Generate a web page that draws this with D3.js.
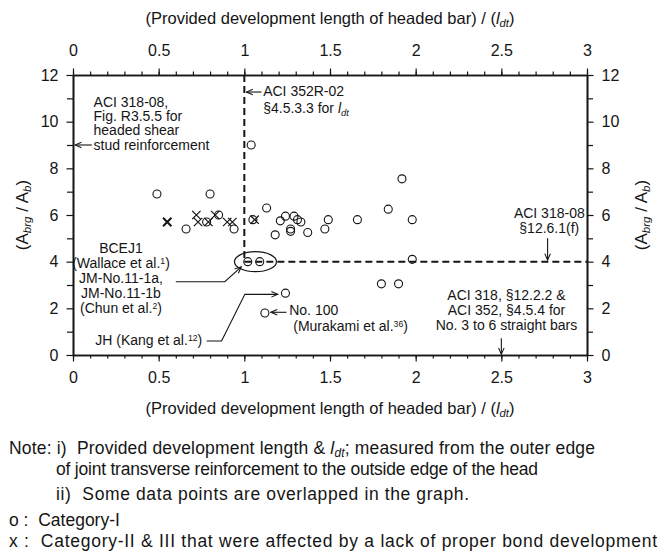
<!DOCTYPE html>
<html lang="en">
  <head>
    <meta charset="UTF-8" />
    <script src="https://d3js.org/d3.v7.min.js"></script>
    <title></title>
    <style>
      body { margin: 0; background: #fff; }
      svg text { font-family: 'Liberation Sans', Arial, sans-serif; fill: #151515; white-space: pre; }
    </style>
  </head>
  <body>
    <div id="chart"></div>
    <script>
      // Category-I specimens (open circles)
      const catIx = [0.49, 0.66, 0.78, 0.80, 0.85, 0.94, 1.04, 1.05, 1.13, 1.02, 1.09, 1.18, 1.21, 1.24, 1.27, 1.27, 1.29, 1.31, 1.33, 1.37, 1.47, 1.49, 1.66, 1.84, 1.92, 1.98, 1.98, 1.80, 1.90, 1.24, 1.12]
      const catIy = [6.9, 5.4, 5.7, 6.9, 6.0, 5.4, 9.0, 5.8, 6.3, 4.0, 4.0, 5.15, 5.75, 5.95, 5.4, 5.3, 5.95, 5.8, 5.7, 5.25, 5.4, 5.8, 5.8, 6.25, 7.55, 5.8, 4.1, 3.05, 3.05, 2.65, 1.8]

      // Category-II & III specimens (crosses)
      const catIIx = [0.55, 0.72, 0.73, 0.79, 0.83, 0.90, 0.93, 1.06]
      const catIIy = [5.7, 6.0, 5.7, 5.7, 6.0, 5.7, 5.7, 5.8]

      // tick values
      const xMajor = [0, 0.5, 1, 1.5, 2, 2.5, 3]
      const xMinor = d3.range(0, 31).map(d => d / 10)
      const yMajor = [0, 2, 4, 6, 8, 10, 12]
      const yMinor = [1, 3, 5, 7, 9, 11]

      // code limits drawn as dashed lines
      const limitLdt = 1
      const limitArea = 4

      const svg = d3
        .select('#chart')
        .append('svg')
        .attr('width', 665)
        .attr('height', 554)

      const x = d3.scaleLinear().domain([0, 3]).range([73, 587])
      const y = d3.scaleLinear().domain([0, 12]).range([355, 75])

      const ink = '#151515'

      function styleAxis(g, size) {
        g.attr('font-family', null).attr('font-size', null)
        g.select('.domain').attr('stroke', ink).attr('stroke-width', 1.6)
        g.selectAll('.tick line').attr('stroke', ink).attr('stroke-width', 1.2)
        g.selectAll('.tick text').style('font-size', size + 'px')
      }

      // minor ticks first, then major ticks with labels
      const axes = [
        { axis: d3.axisBottom, scale: x, t: `translate(0, ${y(0)})`, minor: xMinor, major: xMajor, pad: 10 },
        { axis: d3.axisTop, scale: x, t: `translate(0, ${y(12)})`, minor: xMinor, major: xMajor, pad: 13 },
        { axis: d3.axisLeft, scale: y, t: `translate(${x(0)}, 0)`, minor: yMinor, major: yMajor, pad: 8 },
        { axis: d3.axisRight, scale: y, t: `translate(${x(3)}, 0)`, minor: yMinor, major: yMajor, pad: 8 }
      ]
      axes.forEach(a => {
        const minorSize = a.scale === x ? 3.5 : 6
        svg
          .append('g')
          .attr('transform', a.t)
          .call(a.axis(a.scale).tickValues(a.minor).tickSize(minorSize).tickSizeOuter(0).tickFormat(''))
          .call(g => styleAxis(g, 16))
        svg
          .append('g')
          .attr('transform', a.t)
          .call(a.axis(a.scale).tickValues(a.major).tickSize(6.5).tickSizeOuter(0).tickPadding(a.pad).tickFormat(d => d))
          .call(g => styleAxis(g, 16))
      })

      // helper for text with italic / subscript / superscript parts
      function rich(sel, parts) {
        parts.forEach(p => {
          const [t, kind] = Array.isArray(p) ? p : [p]
          const ts = sel.append('tspan').text(t)
          if (kind === 'i') ts.style('font-style', 'italic')
          if (kind === 'sub')
            ts.style('font-style', 'italic').attr('baseline-shift', '-25%').style('font-size', '0.68em')
          if (kind === 'sup') ts.attr('baseline-shift', '45%').style('font-size', '0.62em')
        })
        return sel
      }

      // axis titles
      const xTitle = ['(Provided development length of headed bar) / (', ['l', 'i'], ['dt', 'sub'], ')']
      rich(svg.append('text').attr('x', x(1.5)).attr('y', 24).attr('text-anchor', 'middle').style('font-size', '16.5px'), xTitle)
      rich(svg.append('text').attr('x', x(1.5)).attr('y', 414).attr('text-anchor', 'middle').style('font-size', '16.5px'), xTitle)

      const yTitle = ['(A', ['brg', 'sub'], ' / A', ['b', 'sub'], ')']
      ;[22, 641].forEach(px => {
        rich(
          svg
            .append('text')
            .attr('transform', `translate(${px}, ${y(6)}) rotate(-90)`)
            .attr('text-anchor', 'middle')
            .attr('dy', '0.35em')
            .style('font-size', '17px'),
          yTitle
        )
      })

      // dashed limit lines
      svg
        .append('line')
        .attr('x1', x(limitLdt))
        .attr('x2', x(limitLdt))
        .attr('y1', y(12))
        .attr('y2', y(limitArea))
        .attr('stroke', ink)
        .attr('stroke-width', 2)
        .attr('stroke-dasharray', '7,4')
      svg
        .append('line')
        .attr('x1', x(limitLdt))
        .attr('x2', x(3))
        .attr('y1', y(limitArea))
        .attr('y2', y(limitArea))
        .attr('stroke', ink)
        .attr('stroke-width', 2)
        .attr('stroke-dasharray', '7,4')

      // ellipse around BCEJ1 / JM specimens
      svg
        .append('ellipse')
        .attr('cx', x(1.065))
        .attr('cy', y(limitArea))
        .attr('rx', 21)
        .attr('ry', 10)
        .attr('fill', 'none')
        .attr('stroke', ink)
        .attr('stroke-width', 1.2)

      // data points
      svg
        .append('g')
        .selectAll('circle')
        .data(catIx.map((v, i) => [v, catIy[i]]))
        .join('circle')
        .attr('cx', d => x(d[0]))
        .attr('cy', d => y(d[1]))
        .attr('r', 4)
        .attr('fill', 'none')
        .attr('stroke', ink)
        .attr('stroke-width', 1.1)

      const s = 4.2
      svg
        .append('g')
        .selectAll('path')
        .data(catIIx.map((v, i) => [v, catIIy[i]]))
        .join('path')
        .attr('d', d => {
          const cx = x(d[0]), cy = y(d[1])
          return `M${cx - s},${cy - s}L${cx + s},${cy + s}M${cx - s},${cy + s}L${cx + s},${cy - s}`
        })
        .attr('stroke', ink)
        .attr('stroke-width', (d, i) => (i === 0 ? 2 : 1.2))

      // arrows
      svg
        .append('defs')
        .append('marker')
        .attr('id', 'arrow')
        .attr('viewBox', '0 0 10 10')
        .attr('refX', 9)
        .attr('refY', 5)
        .attr('markerWidth', 8)
        .attr('markerHeight', 8)
        .attr('markerUnits', 'userSpaceOnUse')
        .attr('orient', 'auto')
        .append('path')
        .attr('d', 'M1,1.5 L9,5 L1,8.5')
        .attr('fill', 'none')
        .attr('stroke', ink)
        .attr('stroke-width', 1.3)

      const arrows = [
        [[0.11, 9], [0.012, 9]],
        [[1.1, 11.27], [1.012, 11.27]],
        [[2.77, 5.0], [2.77, 4.07]],
        [[2.5, 0.72], [2.5, 0.03]],
        [[0.6, 3.14], [0.886, 3.14], [0.982, 3.78]],
        [[0.78, 0.6], [0.867, 0.6], [1.003, 2.6], [1.195, 2.6]],
        [[1.246, 1.83], [1.155, 1.83]]
      ]
      const arrowLine = d3.line().x(d => x(d[0])).y(d => y(d[1]))
      svg
        .append('g')
        .selectAll('path')
        .data(arrows)
        .join('path')
        .attr('d', arrowLine)
        .attr('fill', 'none')
        .attr('stroke', ink)
        .attr('stroke-width', 1.1)
        .attr('marker-end', 'url(#arrow)')

      // annotation texts (data coordinates of each line)
      const notes = [
        { x: 0.12, y: [10.65, 10.03, 9.41, 8.79], anchor: 'start', lines: [['ACI 318-08,'], ['Fig. R3.5.5 for'], ['headed shear'], ['stud reinforcement']] },
        { x: 1.11, y: [11.1, 10.38], anchor: 'start', lines: [['ACI 352R-02'], ['§4.5.3.3 for ', ['l', 'i'], ['dt', 'sub']]] },
        { x: 2.78, y: [5.86, 5.22], anchor: 'middle', lines: [['ACI 318-08'], ['§12.6.1(f)']] },
        { x: 2.53, y: [2.35, 1.71, 1.07], anchor: 'middle', lines: [['ACI 318, §12.2.2 &'], ['ACI 352, §4.5.4 for'], ['No. 3 to 6 straight bars']] },
        { x: 0.28, y: [4.38, 3.74, 3.1, 2.46, 1.82], anchor: 'middle', lines: [['BCEJ1'], ['(Wallace et al.', ['1', 'sup'], ')'], ['JM-No.11-1a,'], ['JM-No.11-1b'], ['(Chun et al.', ['2', 'sup'], ')']] },
        { x: 0.13, y: [0.43], anchor: 'start', lines: [['JH (Kang et al.', ['12', 'sup'], ')']] },
        { x: 1.262, y: [1.7, 1.03], anchor: 'start', lines: [['No. 100'], ['(Murakami et al.', ['36', 'sup'], ')']] }
      ]
      notes.forEach(n => {
        n.lines.forEach((parts, i) => {
          rich(
            svg
              .append('text')
              .attr('x', x(n.x) + (n.x === 1.262 && i === 1 ? 4 : 0))
              .attr('y', y(n.y[i]))
              .attr('text-anchor', n.anchor)
              .style('font-size', '14px'),
            parts
          )
        })
      })

      // notes below the chart
      const footLines = [
        { x: 9, y: 454, w: 586, parts: ['Note: i)  Provided development length & ', ['l', 'i'], ['dt', 'sub'], '; measured from the outer edge'] },
        { x: 56, y: 475, w: 482, parts: ['of joint transverse reinforcement to the outside edge of the head'] },
        { x: 56, y: 500, w: 413, parts: ['ii)  Some data points are overlapped in the graph.'] },
        { x: 9, y: 526, w: null, parts: ['o :  Category-I'] },
        { x: 9, y: 547, w: 648, parts: ['x :  Category-II & III that were affected by a lack of proper bond development'] }
      ]
      footLines.forEach(f => {
        const t = svg.append('text').attr('x', f.x).attr('y', f.y).style('font-size', '17.5px')
        if (f.w) t.attr('textLength', f.w).attr('lengthAdjust', 'spacing')
        rich(t, f.parts)
      })
    </script>
  </body>
</html>
